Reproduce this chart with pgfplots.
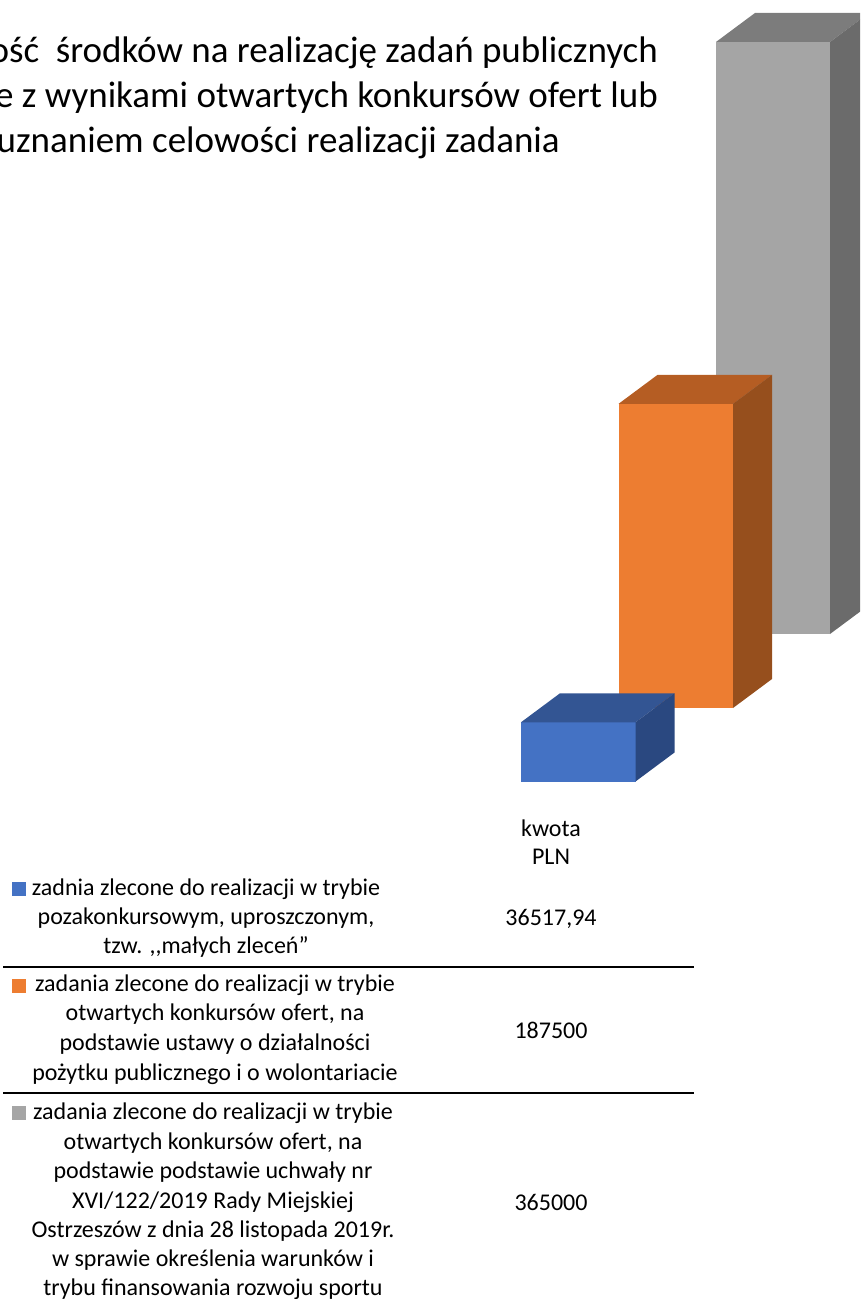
\documentclass[border=0pt]{standalone}
\usepackage{fontspec}
\setmainfont{Carlito}
\usepackage{pgfplots}
\usepackage{pgfplotstable}
\pgfplotsset{compat=1.18}
\definecolor{blueF}{HTML}{4472C4}
\definecolor{blueT}{HTML}{335593}
\definecolor{blueS}{HTML}{2A4880}
\definecolor{orangeF}{HTML}{ED7D31}
\definecolor{orangeT}{HTML}{B55D23}
\definecolor{orangeS}{HTML}{964F1D}
\definecolor{grayF}{HTML}{A5A5A5}
\definecolor{grayT}{HTML}{7C7C7C}
\definecolor{grayS}{HTML}{6B6B6B}
% kwota PLN: 36517,94 / 187500 / 365000
\pgfplotstableread{
x v
521 0
521 36517.94
635.5 36517.94
635.5 0
}\blueFront
\pgfplotstableread{
x v
521 36517.94
560 54397
674.5 54397
635.5 36517.94
}\blueTop
\pgfplotstableread{
x v
635.5 0
635.5 36517.94
674.5 54397
674.5 17879
}\blueSide
\pgfplotstableread{
x v
618.5 0
618.5 187500
733 187500
733 0
}\orangeFront
\pgfplotstableread{
x v
618.5 187500
657.5 205379
772 205379
733 187500
}\orangeTop
\pgfplotstableread{
x v
733 0
733 187500
772 205379
772 17879
}\orangeSide
\pgfplotstableread{
x v
716 0
716 365000
830 365000
830 0
}\grayFront
\pgfplotstableread{
x v
716 365000
755 382879
869 382879
830 365000
}\grayTop
\pgfplotstableread{
x v
830 0
830 365000
869 382879
869 17879
}\graySide
\begin{document}
\begin{tikzpicture}
\path[use as bounding box, clip] (0,0) rectangle (860pt,1299pt);
\begin{axis}[
    at={(0,0)}, anchor=south west,
    scale only axis,
    width=860pt, height=1299pt,
    xmin=0, xmax=860,
    ymin=0, ymax=1299,
    y dir=reverse,
    hide axis,
    clip=false,
    nodes={font=\fontsize{24}{29.3}\selectfont, align=center, inner sep=0pt},
]
% y position = base of the bar in the picture - kwota * scale
\addplot[draw=none, fill=grayF] table[x=x, y expr={634-\thisrow{v}*0.001622}] {\grayFront} -- cycle;
\addplot[draw=none, fill=grayT] table[x=x, y expr={634-\thisrow{v}*0.001622}] {\grayTop} -- cycle;
\addplot[draw=none, fill=grayS] table[x=x, y expr={634-\thisrow{v}*0.001622}] {\graySide} -- cycle;
\addplot[draw=none, fill=orangeF] table[x=x, y expr={708-\thisrow{v}*0.001622}] {\orangeFront} -- cycle;
\addplot[draw=none, fill=orangeT] table[x=x, y expr={708-\thisrow{v}*0.001622}] {\orangeTop} -- cycle;
\addplot[draw=none, fill=orangeS] table[x=x, y expr={708-\thisrow{v}*0.001622}] {\orangeSide} -- cycle;
\addplot[draw=none, fill=blueF] table[x=x, y expr={781.5-\thisrow{v}*0.001622}] {\blueFront} -- cycle;
\addplot[draw=none, fill=blueT] table[x=x, y expr={781.5-\thisrow{v}*0.001622}] {\blueTop} -- cycle;
\addplot[draw=none, fill=blueS] table[x=x, y expr={781.5-\thisrow{v}*0.001622}] {\blueSide} -- cycle;
% title, cut off on the left
\node[anchor=east, font=\fontsize{37}{45}\selectfont] at (axis cs:658,53) {ość~~środków na realizację zadań publicznych};
\node[anchor=east, font=\fontsize{37}{45}\selectfont] at (axis cs:658,98) {e z wynikami otwartych konkursów ofert lub};
\node[anchor=east, font=\fontsize{37}{45}\selectfont] at (axis cs:560,143) {uznaniem celowości realizacji zadania};
% table
\addplot[black, line width=1.6pt] coordinates {(3,967) (694,967)};
\addplot[black, line width=1.6pt] coordinates {(3,1093) (694,1093)};
\addplot[draw=none, fill=blueF] coordinates {(12,882) (26,882) (26,896) (12,896)} -- cycle;
\addplot[draw=none, fill=orangeF] coordinates {(12,979) (26,979) (26,993) (12,993)} -- cycle;
\addplot[draw=none, fill=grayF] coordinates {(12,1106) (26,1106) (26,1120) (12,1120)} -- cycle;
\node at (axis cs:551,828) {kwota};
\node at (axis cs:551,857) {PLN};
\node at (axis cs:206,889) {zadnia zlecone do realizacji w trybie};
\node at (axis cs:206,918) {pozakonkursowym, uproszczonym,};
\node at (axis cs:206,947) {tzw. ,{},małych zleceń”};
\node at (axis cs:551,919) {36517,94};
\node at (axis cs:215,985) {zadania zlecone do realizacji w trybie};
\node at (axis cs:215,1014) {otwartych konkursów ofert, na};
\node at (axis cs:215,1044) {podstawie ustawy o działalności};
\node at (axis cs:215,1074) {pożytku publicznego i o wolontariacie};
\node at (axis cs:551,1030) {187500};
\node at (axis cs:213,1113) {zadania zlecone do realizacji w trybie};
\node at (axis cs:213,1143) {otwartych konkursów ofert, na};
\node at (axis cs:213,1172) {podstawie podstawie uchwały nr};
\node at (axis cs:213,1202) {XVI/122/2019 Rady Miejskiej};
\node at (axis cs:213,1231) {Ostrzeszów z dnia 28 listopada 2019r.};
\node at (axis cs:213,1260) {w sprawie określenia warunków i};
\node at (axis cs:213,1289) {trybu finansowania rozwoju sportu};
\node at (axis cs:551,1202) {365000};
\end{axis}
\end{tikzpicture}
\end{document}
